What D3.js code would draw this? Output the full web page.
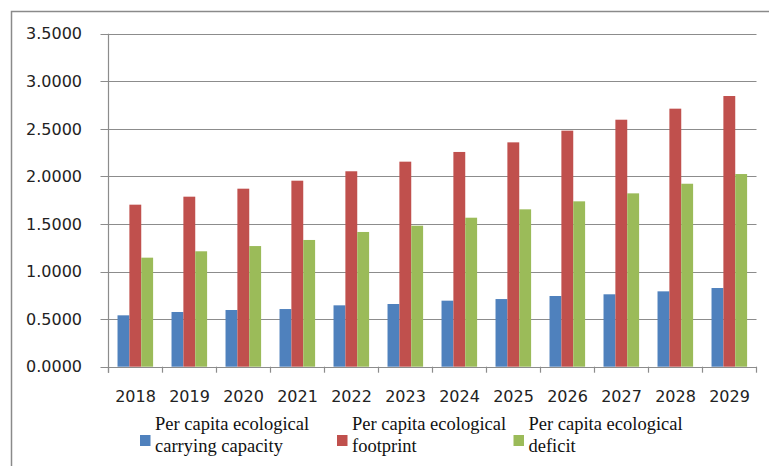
<!DOCTYPE html>
<html><head><meta charset="utf-8">
<script src="https://cdn.jsdelivr.net/npm/d3@7"></script>
<style>body{margin:0;background:#fff}svg{display:block}</style>
</head><body>
<svg id="c" width="769" height="466"></svg>
<script>
const years = ["2018","2019","2020","2021","2022","2023","2024","2025","2026","2027","2028","2029"];
const seriesNames = ["Per capita ecological carrying capacity","Per capita ecological footprint","Per capita ecological deficit"];
const capacity  = [0.540,0.575,0.596,0.606,0.645,0.659,0.694,0.711,0.743,0.761,0.792,0.827];
const footprint = [1.703,1.787,1.871,1.955,2.054,2.155,2.257,2.358,2.481,2.596,2.712,2.845];
const deficit   = [1.146,1.213,1.268,1.332,1.416,1.482,1.566,1.654,1.738,1.822,1.923,2.025];
const yTicks = [0,0.5,1.0,1.5,2.0,2.5,3.0,3.5];
const legendLines = [["Per capita ecological","carrying capacity"],["Per capita ecological","footprint"],["Per capita ecological","deficit"]];
const colors = ["#4F81BD","#C0504D","#9BBB59"];
const values = [capacity, footprint, deficit];

const svg = d3.select("#c");
svg.append("path").attr("d","M11.5,470 V11.5 H775").attr("fill","none").attr("stroke","#8a8a8a").attr("stroke-width",1.5);

const L = 108.5, R = 756.5, T = 33.7, B = 366.7;
const x0 = d3.scaleBand().domain(years).range([L,R]).padding(0);
const step = x0.step();
const x1 = d3.scaleBand().domain([0,1,2]).range([step*0.167, step*0.826]).padding(0);
const y = d3.scaleLinear().domain([0,3.5]).range([B,T]);

svg.append("g").selectAll("line").data(yTicks).join("line")
  .attr("x1",L-8).attr("x2",R).attr("y1",d=>Math.round(y(d))+0.5).attr("y2",d=>Math.round(y(d))+0.5)
  .attr("stroke","#8c8c8c").attr("stroke-width",1.2);

svg.append("g").selectAll("text").data(yTicks).join("text")
  .attr("x",82).attr("y",d=>y(d)).attr("dy","0.36em").attr("text-anchor","end")
  .style("font-family","'DejaVu Sans', sans-serif").style("font-size","16px").attr("fill","#222")
  .text(d=>d3.format(".4f")(d));

const g = svg.append("g");
years.forEach((yr,i)=>{
  values.forEach((arr,s)=>{
    g.append("rect").attr("x",x0(yr)+x1(s)).attr("width",x1.bandwidth())
      .attr("y",y(arr[i])).attr("height",B-y(arr[i])).attr("fill",colors[s]);
  });
});

svg.append("line").attr("x1",L).attr("x2",L).attr("y1",T).attr("y2",B+6).attr("stroke","#8c8c8c").attr("stroke-width",1.2);
svg.append("line").attr("x1",L).attr("x2",R+0.5).attr("y1",Math.round(B)+0.5).attr("y2",Math.round(B)+0.5).attr("stroke","#8c8c8c").attr("stroke-width",1.2);
const bounds = years.map(d=>x0(d)).concat([R]);
svg.append("g").selectAll("line").data(bounds).join("line")
  .attr("x1",d=>d).attr("x2",d=>d).attr("y1",B).attr("y2",B+6).attr("stroke","#8c8c8c").attr("stroke-width",1.2);

svg.append("g").selectAll("text").data(years).join("text")
  .attr("x",d=>x0(d)+step/2).attr("y",401.5).attr("text-anchor","middle")
  .style("font-family","'DejaVu Sans', sans-serif").style("font-size","16px").attr("fill","#222")
  .text(d=>d);

const legX = [140, 337, 513.5];
const lg = svg.append("g");
legendLines.forEach((lines,i)=>{
  lg.append("rect").attr("x",legX[i]).attr("y",435).attr("width",10.5).attr("height",11).attr("fill",colors[i]);
  const t = lg.append("text").style("font-family","'Liberation Serif', 'Times New Roman', serif").style("font-size","18.5px").attr("fill","#111");
  lines.forEach((ln,k)=>{
    t.append("tspan").attr("x",legX[i]+15).attr("y",430+k*21.5).text(ln);
  });
});
</script>
</body></html>
